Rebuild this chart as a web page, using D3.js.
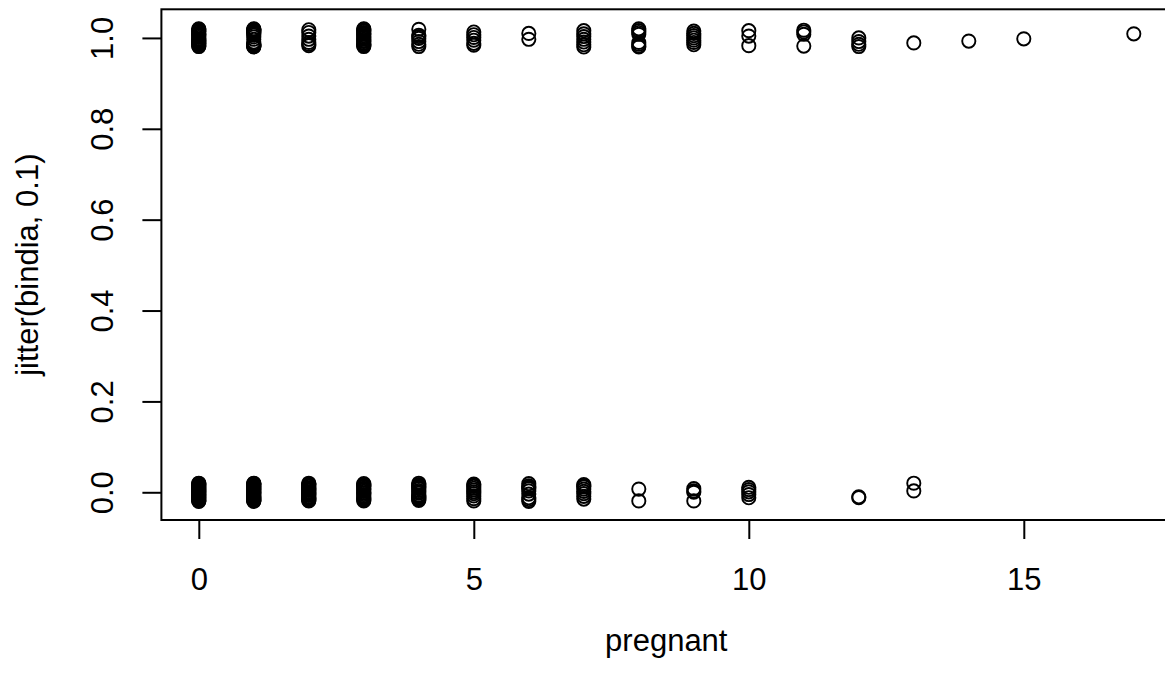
<!DOCTYPE html>
<html>
<head>
<meta charset="utf-8">
<script src="https://cdn.jsdelivr.net/npm/d3@7"></script>
<style>
  html, body { margin: 0; padding: 0; background: #fff; }
  svg { display: block; }
  text { font-family: "Liberation Sans", Arial, Helvetica, sans-serif; fill: #000; }
</style>
</head>
<body>
<svg id="chart" width="1165" height="674"></svg>
<script>
// Number of pregnancies for each group of points
const pregnantLevels = [0, 1, 2, 3, 4, 5, 6, 7, 8, 9, 10, 11, 12, 13, 14, 15, 17];

// Jittered outcome values (diabetes = 1), one list per pregnancy level
const jitterPositive = [
  [1.019, 0.982, 1.007, 0.994, 1.013, 0.987, 1.001, 1.016, 0.990, 1.010, 0.985, 0.998, 1.004, 1.020, 0.981, 0.996, 1.008, 0.989, 1.015, 0.993],
  [1.017, 0.983, 1.011, 0.988, 1.019, 0.981, 1.014, 0.986, 1.002, 1.016, 0.984, 0.997, 1.020, 0.980, 1.009, 0.991, 1.013, 0.985, 1.018, 0.982, 1.006],
  [1.018, 1.012, 1.004, 0.997, 0.990, 0.986, 0.983],
  [1.019, 0.981, 1.008, 0.992, 1.015, 0.986, 1.002, 1.012, 0.989, 0.997, 1.017, 0.983, 1.005, 0.994, 1.010, 0.985, 1.000, 1.020],
  [1.019, 1.006, 0.999, 0.992, 0.986, 0.981, 1.003],
  [1.013, 1.007, 1.001, 0.995, 0.988, 0.984],
  [1.010, 0.997],
  [1.016, 1.009, 1.003, 0.997, 0.991, 0.985, 0.980],
  [1.020, 1.016, 1.012, 1.008, 0.990, 0.986, 0.982, 0.980],
  [1.015, 1.010, 1.005, 1.000, 0.995, 0.990, 0.985],
  [1.016, 1.004, 0.983],
  [1.017, 1.013, 1.008, 0.982],
  [1.000, 0.992, 0.986, 0.981],
  [0.989],
  [0.993],
  [0.998],
  [1.009]
];

// Jittered outcome values (diabetes = 0), one list per pregnancy level
const jitterNegative = [
  [0.019, -0.018, 0.012, -0.006, 0.004, -0.014, 0.016, -0.010, 0.001, -0.020, 0.008, -0.003, 0.014, -0.016, 0.010, -0.008, 0.006, -0.012, 0.020, -0.001, 0.003, -0.019, 0.017, -0.005],
  [0.018, -0.017, 0.011, -0.009, 0.005, -0.013, 0.015, -0.002, 0.020, -0.019, 0.008, -0.006, 0.013, -0.015, 0.002, -0.011, 0.017, -0.004, 0.009, -0.020, 0.000, -0.008, 0.014, -0.016, 0.006, -0.012, 0.019, -0.001, 0.003, -0.018],
  [0.020, -0.016, 0.010, -0.007, 0.004, -0.013, 0.017, -0.003, 0.013, -0.019, 0.007, -0.010, 0.001, -0.015, 0.015, -0.005, 0.009, -0.018, 0.018, -0.001, 0.005, -0.012],
  [0.019, -0.017, 0.012, -0.008, 0.005, -0.013, 0.015, -0.002, 0.009, -0.019, 0.002, -0.011, 0.017, -0.005, 0.007, -0.015, 0.014, -0.001],
  [0.020, -0.014, 0.011, -0.006, 0.004, -0.018, 0.015, -0.002, 0.008, -0.010, 0.017, -0.016, 0.001, -0.008, 0.013, -0.012],
  [0.018, 0.013, 0.009, 0.005, 0.001, -0.003, -0.008, -0.014, -0.019, 0.016],
  [0.019, 0.014, 0.008, 0.003, -0.004, -0.012, -0.020, 0.011, -0.016],
  [0.017, 0.012, 0.007, 0.002, -0.003, -0.009, -0.015, 0.014],
  [0.007, -0.019],
  [0.008, 0.003, 0.000, -0.019],
  [0.011, 0.006, 0.001, -0.005, -0.012],
  [],
  [-0.010, -0.012],
  [0.020, 0.003],
  [],
  [],
  []
];

const xTicks = [0, 5, 10, 15];
const yTicks = [0.0, 0.2, 0.4, 0.6, 0.8, 1.0];
const xTitle = "pregnant";
const yTitle = "jitter(bindia, 0.1)";

// Flatten the groups into point records
const points = [];
pregnantLevels.forEach((p, i) => {
  jitterPositive[i].forEach(v => points.push({ pregnant: p, value: v }));
  jitterNegative[i].forEach(v => points.push({ pregnant: p, value: v }));
});

const svg = d3.select("#chart");

// Plot region (right edge runs past the visible canvas)
const plot = { left: 161.4, right: 1171.2, top: 9.3, bottom: 520 };

const x = d3.scaleLinear().domain([-0.68, 17.68]).range([plot.left, plot.right]);
const y = d3.scaleLinear().domain([-0.061, 1.063]).range([plot.bottom, plot.top]);

const fontSize = 31;

// Points: open circles
svg.append("g")
  .selectAll("circle")
  .data(points)
  .join("circle")
  .attr("cx", d => x(d.pregnant))
  .attr("cy", d => y(d.value))
  .attr("r", 6.6)
  .attr("fill", "none")
  .attr("stroke", "#000")
  .attr("stroke-width", 1.9);

// Box around the plot region
svg.append("rect")
  .attr("x", plot.left)
  .attr("y", plot.top)
  .attr("width", plot.right - plot.left)
  .attr("height", plot.bottom - plot.top)
  .attr("fill", "none")
  .attr("stroke", "#000")
  .attr("stroke-width", 2);

// Bottom axis
const gx = svg.append("g")
  .attr("transform", `translate(0,${plot.bottom})`)
  .call(d3.axisBottom(x).tickValues(xTicks).tickSize(19).tickSizeOuter(0).tickFormat(d3.format("d")));
gx.select(".domain").remove();
gx.selectAll(".tick line").attr("stroke", "#000").attr("stroke-width", 2);
gx.selectAll(".tick text")
  .attr("y", 70)
  .attr("dy", null)
  .attr("font-size", fontSize)
  .style("font-family", "'Liberation Sans', Arial, sans-serif");

// Left axis with labels running parallel to the axis
const gy = svg.append("g")
  .attr("transform", `translate(${plot.left},0)`)
  .call(d3.axisLeft(y).tickValues(yTicks).tickSize(19).tickSizeOuter(0).tickFormat(d3.format(".1f")));
gy.select(".domain").remove();
gy.selectAll(".tick line").attr("stroke", "#000").attr("stroke-width", 2);
gy.selectAll(".tick text")
  .attr("x", 0)
  .attr("dy", null)
  .attr("transform", "translate(-48,0) rotate(-90)")
  .attr("text-anchor", "middle")
  .attr("font-size", fontSize)
  .style("font-family", "'Liberation Sans', Arial, sans-serif");

// Axis titles
svg.append("text")
  .attr("x", (plot.left + plot.right) / 2)
  .attr("y", 651)
  .attr("text-anchor", "middle")
  .attr("font-size", fontSize)
  .text(xTitle);

svg.append("text")
  .attr("transform", `translate(38,${(plot.top + plot.bottom) / 2}) rotate(-90)`)
  .attr("text-anchor", "middle")
  .attr("font-size", fontSize)
  .text(yTitle);
</script>
</body>
</html>
